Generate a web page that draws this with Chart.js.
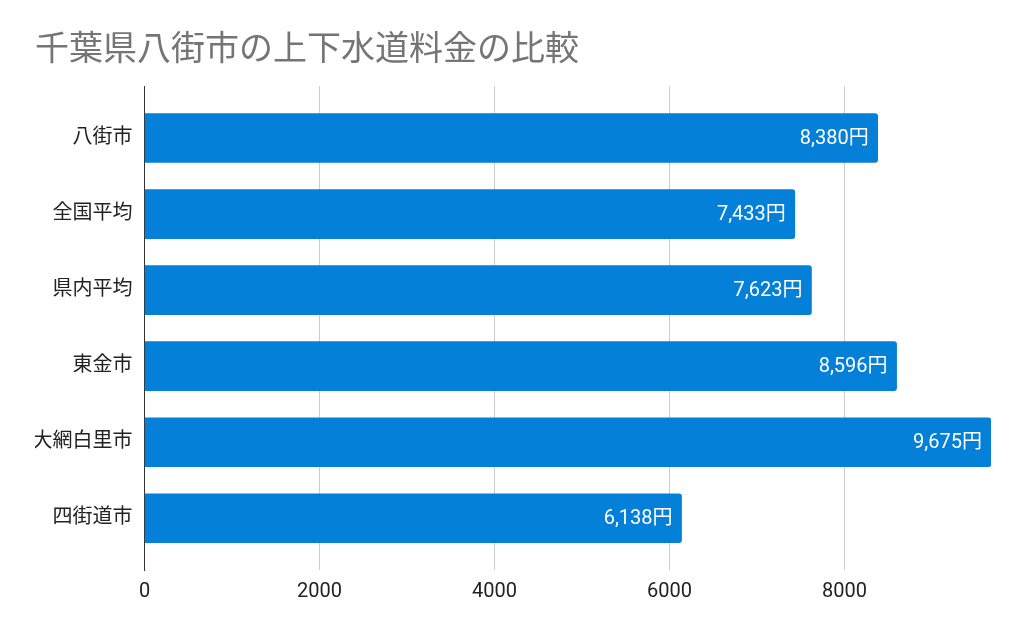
<!DOCTYPE html>
<html>
<head>
<meta charset="utf-8">
<script src="https://cdn.jsdelivr.net/npm/chart.js@4"></script>
<style>
  html, body { margin: 0; padding: 0; background: #fff; }
  #wrap { width: 1024px; height: 633px; }
</style>
</head>
<body>
<div id="wrap"><canvas id="waterChart"></canvas></div>
<script>
// Data
const categories = ["八街市", "全国平均", "県内平均", "東金市", "大網白里市", "四街道市"];
const fees = [8380, 7433, 7623, 8596, 9675, 6138];
const xTicks = [0, 2000, 4000, 6000, 8000];

const titleText = "千葉県八街市の上下水道料金の比較";
const barColor = "#0480d9";
const fontStack = "Roboto, 'Noto Sans CJK JP', 'Noto Sans', sans-serif";

// bar value labels, drawn at the end of each bar
const barLabels = {
    id: "barLabels",
    afterDatasetsDraw(chart) {
        const ctx = chart.ctx;
        const meta = chart.getDatasetMeta(0);
        ctx.save();
        ctx.font = "20px " + fontStack;
        ctx.fillStyle = "#ffffff";
        ctx.textAlign = "right";
        ctx.textBaseline = "middle";
        meta.data.forEach((bar, i) => {
            const text = fees[i].toLocaleString("en-US") + "円";
            ctx.fillText(text, bar.x - 9, bar.y + 1);
        });
        ctx.restore();
    }
};

new Chart(document.querySelector("#waterChart"), {
    type: "bar",
    data: {
        datasets: [{
            data: fees.map((v, i) => ({ x: v, y: i })),
            backgroundColor: barColor,
            borderRadius: 3,
            borderSkipped: "start",
            barThickness: 49
        }]
    },
    options: {
        indexAxis: "y",
        responsive: true,
        maintainAspectRatio: false,
        animation: false,
        layout: { padding: { left: 35, right: 33, top: 0, bottom: 0 } },
        plugins: {
            legend: { display: false },
            tooltip: { enabled: false },
            title: {
                display: true,
                text: titleText,
                align: "start",
                color: "#757575",
                font: { family: fontStack, size: 34, weight: "normal" },
                padding: { top: 31, bottom: 14.5 }
            }
        },
        scales: {
            x: {
                type: "linear",
                min: 0,
                max: 9675,
                afterBuildTicks: (scale) => {
                    scale.ticks = xTicks.map((v) => ({ value: v }));
                },
                afterFit: (scale) => { scale.height = 63; },
                grid: { color: "#cccccc", lineWidth: 1, drawTicks: false },
                border: { display: false },
                ticks: {
                    color: "#222222",
                    padding: 10,
                    font: { family: fontStack, size: 20 },
                    callback: (v) => String(v)
                }
            },
            y: {
                type: "linear",
                offset: false,
                reverse: true,
                min: -0.68,
                max: 5.68,
                afterBuildTicks: (scale) => {
                    scale.ticks = categories.map((c, i) => ({ value: i }));
                },
                afterFit: (scale) => { scale.width = 109.5; },
                grid: { display: false, drawTicks: false, offset: false },
                border: { display: true, color: "#333333", width: 1 },
                ticks: {
                    color: "#222222",
                    padding: 12,
                    font: { family: fontStack, size: 20 },
                    callback: (v) => categories[v]
                }
            }
        }
    },
    plugins: [barLabels]
});
</script>
</body>
</html>
